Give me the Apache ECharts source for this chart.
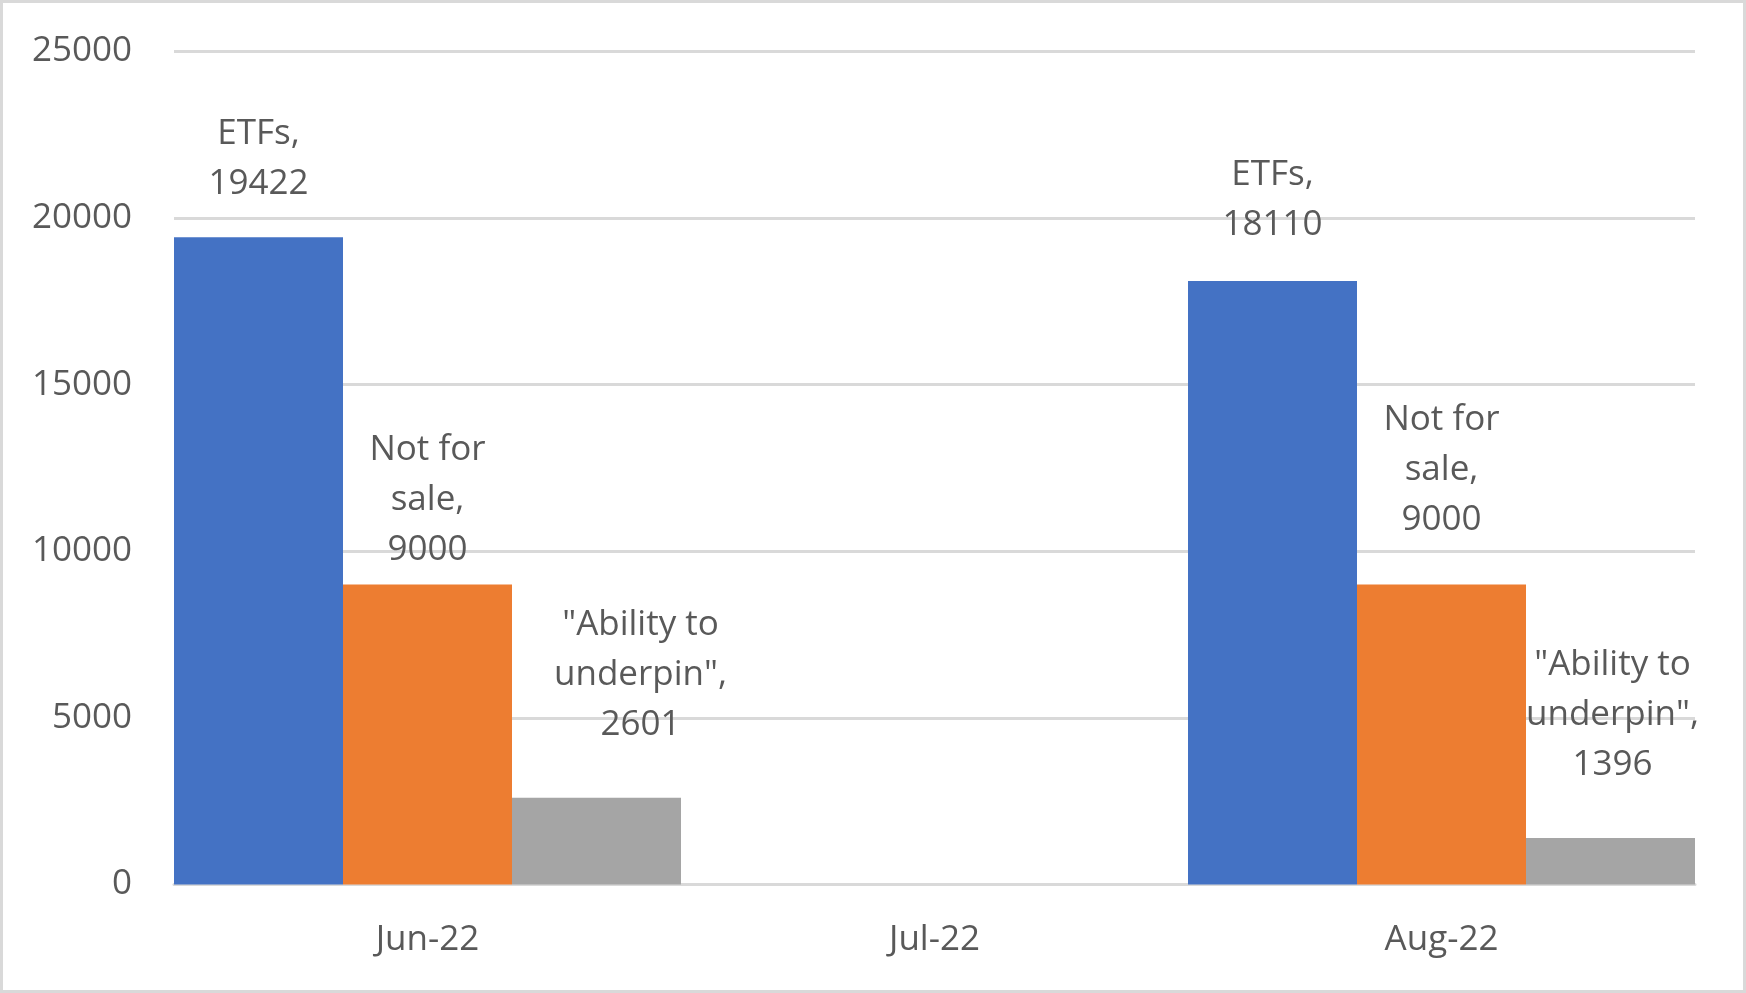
<!DOCTYPE html>
<html>
<head>
<meta charset="utf-8">
<script src="https://cdn.jsdelivr.net/npm/echarts@6/dist/echarts.min.js"></script>
<style>
  html, body { margin: 0; padding: 0; background: #ffffff; }
  #chart { position: absolute; left: 0; top: 0; width: 1746px; height: 993px; }
  #frame { position: absolute; left: 0; top: 0; width: 1746px; height: 993px; box-sizing: border-box; border: 3px solid #D9D9D9; pointer-events: none; }
</style>
</head>
<body>
<div id="chart"></div>
<div id="frame"></div>
<script>
// ---- data ----
const categories = ['Jun-22', 'Jul-22', 'Aug-22'];
const seriesNames = ['ETFs', 'Not for sale', '"Ability to underpin"'];
const etfs = [19422, null, 18110];
const notForSale = [9000, null, 9000];
const abilityToUnderpin = [2601, null, 1396];
const yTicks = [0, 5000, 10000, 15000, 20000, 25000];

// ---- presentation ----
const colors = ['#4472C4', '#ED7D31', '#A5A5A5'];
const wrappedNames = ['ETFs,', 'Not for\nsale,', '"Ability to\nunderpin",'];
// label placement per series per category (Excel labels were placed by hand)
const labelDist = [[28, 0, 31], [10, 0, 40], [48, 0, 48]];
const labelShiftX = [[0, 0, 0], [0, 0, 0], [44, 0, 2]];
const textColor = '#595959';
const fontFamily = 'Open Sans';

const values = [etfs, notForSale, abilityToUnderpin];

const series = values.map((vals, si) => ({
  name: seriesNames[si],
  type: 'bar',
  barGap: '0%',
  barCategoryGap: '0%',
  itemStyle: { color: colors[si] },
  data: vals.map((v, ci) => ({
    value: v,
    label: { distance: labelDist[si][ci], offset: [labelShiftX[si][ci], 0] }
  })),
  label: {
    show: true,
    position: 'top',
    color: textColor,
    fontFamily: fontFamily,
    fontSize: 35,
    lineHeight: 50,
    align: 'center',
    formatter: (p) => p.value == null ? '' : wrappedNames[si] + '\n' + p.value
  }
}));

const chart = echarts.init(document.getElementById('chart'), null, { renderer: 'canvas' });
chart.setOption({
  animation: false,
  backgroundColor: '#ffffff',
  grid: { left: 174, right: 51, top: 51.5, bottom: 108.5, containLabel: false },
  xAxis: {
    type: 'category',
    data: categories,
    axisLine: { show: true, lineStyle: { color: '#D9D9D9', width: 3 } },
    axisTick: { show: false },
    axisLabel: { color: textColor, fontFamily: fontFamily, fontSize: 35, margin: 38 }
  },
  yAxis: {
    type: 'value',
    min: yTicks[0],
    max: yTicks[yTicks.length - 1],
    interval: yTicks[1] - yTicks[0],
    axisLine: { show: false },
    axisTick: { show: false },
    splitLine: { lineStyle: { color: '#D9D9D9', width: 3 } },
    axisLabel: { color: textColor, fontFamily: fontFamily, fontSize: 35, margin: 42, formatter: (v) => String(v) }
  },
  series: series
});
</script>
</body>
</html>
